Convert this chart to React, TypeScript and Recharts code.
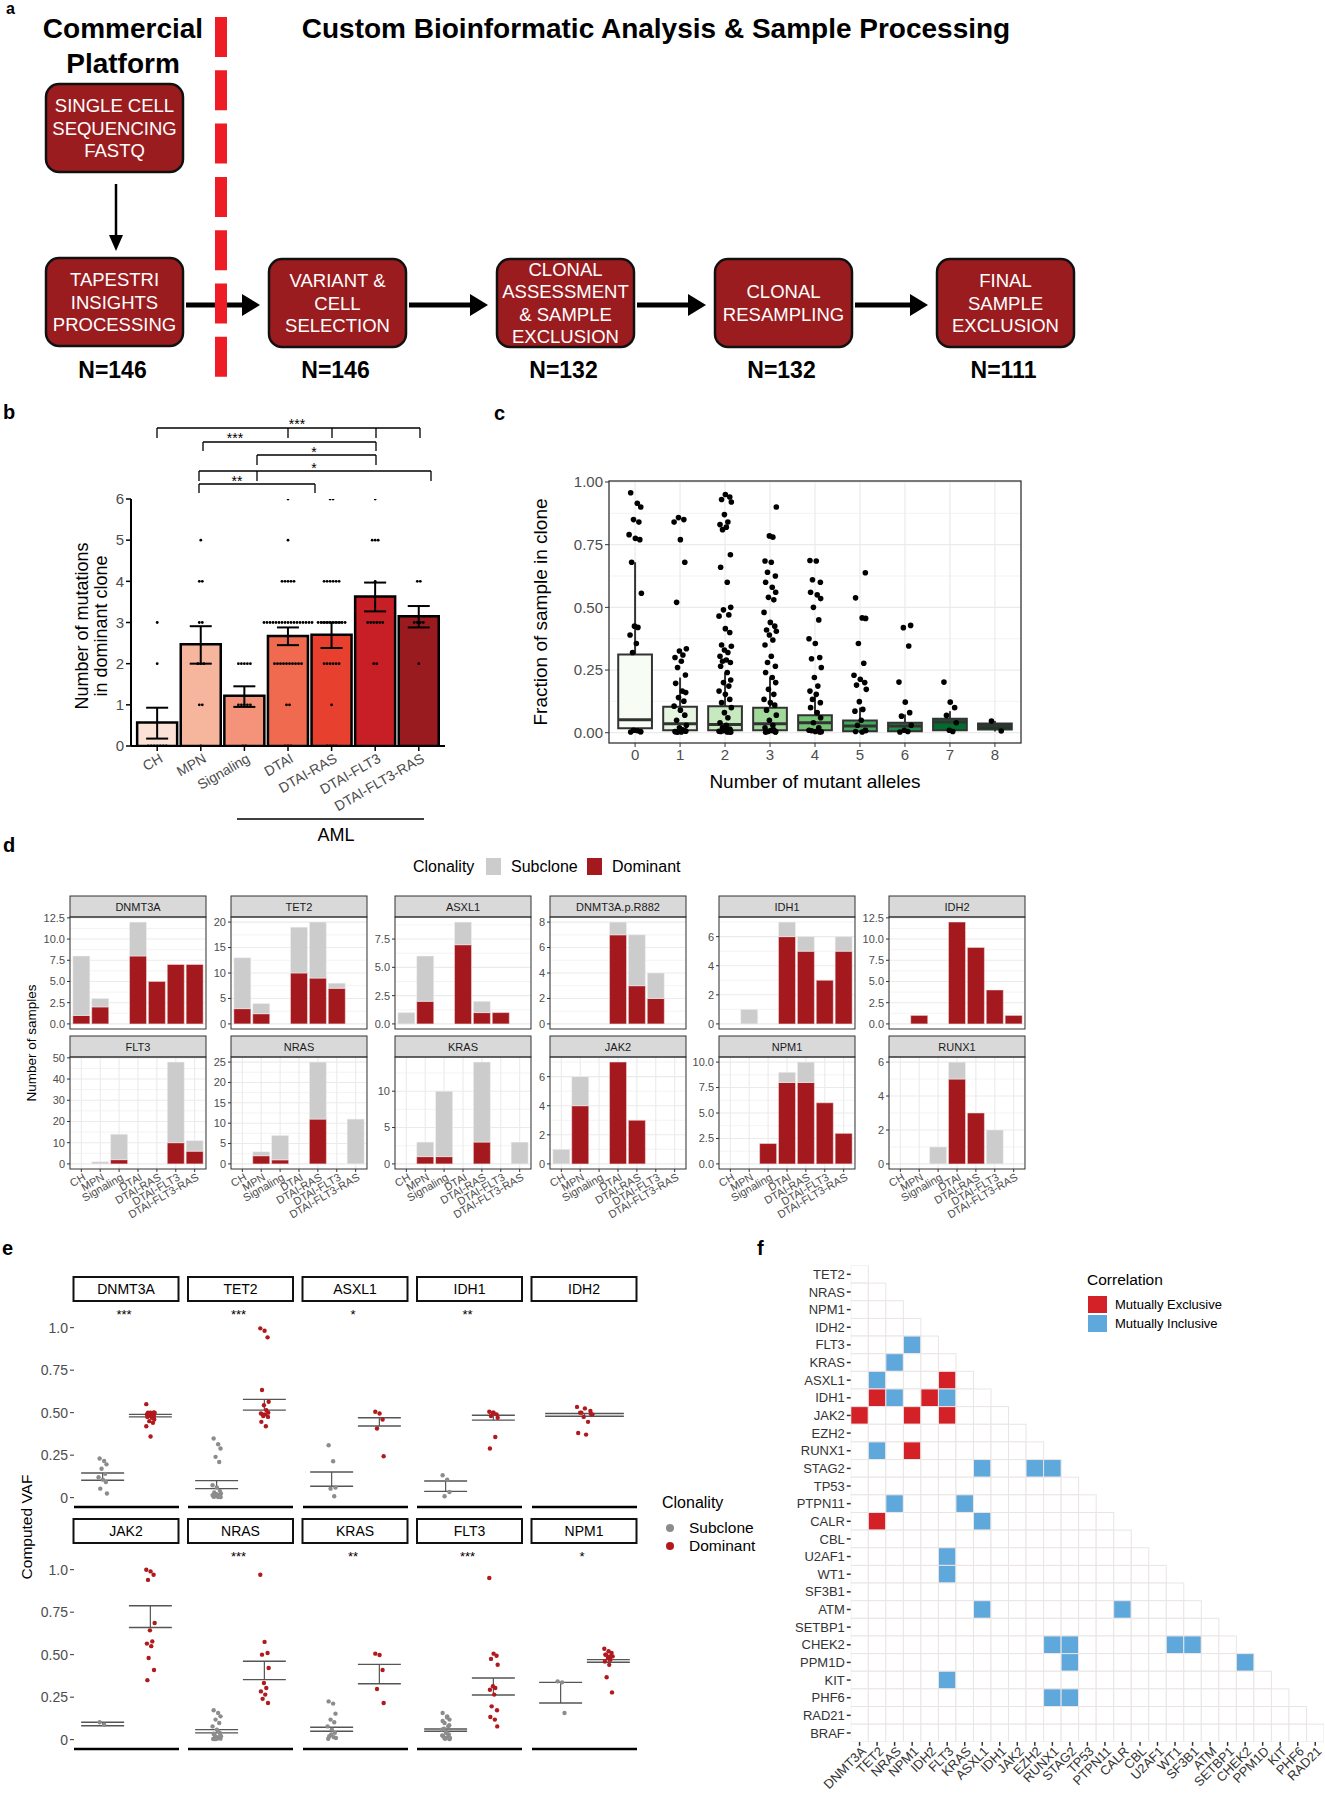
import React from 'react'
import {
  Bar,
  BarChart,
  CartesianGrid,
  Cell,
  ComposedChart,
  ErrorBar,
  ReferenceArea,
  ReferenceLine,
  Scatter,
  ScatterChart,
  XAxis,
  YAxis,
} from 'recharts'

const FONT = '"Liberation Sans", Arial, Helvetica, sans-serif'
const INK = '#4d4d4d'
const DOM_RED = '#a3191d'
const SUB_GRAY = '#cccccc'

// groups shared by panels b and d
const GROUPS = ['CH', 'MPN', 'Signaling', 'DTAI', 'DTAI-RAS', 'DTAI-FLT3', 'DTAI-FLT3-RAS']

// ---- b: number of mutations in dominant clone ----
const B_MEAN = [0.57, 2.47, 1.22, 2.67, 2.7, 3.63, 3.15]
const B_LOW = [0.18, 2.0, 0.95, 2.45, 2.38, 3.27, 2.88]
const B_HIGH = [0.93, 2.91, 1.45, 2.88, 3.0, 3.97, 3.4]
const B_COLORS = ['#fbe1d6', '#f6b59d', '#f4937a', '#ef6a4f', '#e8402f', '#c81f27', '#9a1b1f']
// samples per group sitting at 0,1,2,...,6 mutations
const B_DOTS = [
  [7, 0, 1, 1, 0, 0, 0],
  [1, 2, 3, 2, 2, 1, 0],
  [2, 5, 5, 0, 0, 0, 0],
  [3, 2, 10, 17, 5, 1, 1],
  [4, 1, 6, 10, 6, 0, 2],
  [0, 0, 2, 6, 1, 3, 1],
  [0, 0, 1, 4, 2, 0, 0],
]

// ---- c: fraction of sample in clone ----
const ALLELES = [0, 1, 2, 3, 4, 5, 6, 7, 8]
const C_LO = [0, 0, 0, 0, 0, 0, 0, 0, 0.005]
const C_Q1 = [0.018, 0.01, 0.01, 0.01, 0.01, 0.006, 0.006, 0.01, 0.013]
const C_MED = [0.052, 0.036, 0.033, 0.036, 0.04, 0.027, 0.027, 0.043, 0.027]
const C_Q3 = [0.312, 0.104, 0.106, 0.1, 0.07, 0.049, 0.04, 0.056, 0.037]
const C_HI = [0.68, 0.22, 0.24, 0.22, 0.146, 0.1, 0.073, 0.086, 0.047]
const C_FILL = ['#f7fcf5', '#e5f5e0', '#c7e9c0', '#a1d99b', '#74c476', '#41ab5d', '#238b45', '#006d2c', '#00441b']
const C_POINTS = [
  [0.957, 0.915, 0.9, 0.85, 0.84, 0.79, 0.775, 0.77, 0.68, 0.556, 0.425, 0.42, 0.39, 0.356, 0.32, 0.005, 0.003, 0.008, 0.004, 0.01],
  [0.858, 0.85, 0.84, 0.77, 0.68, 0.52, 0.335, 0.326, 0.31, 0.3, 0.285, 0.26, 0.23, 0.197, 0.166, 0.16, 0.14, 0.126, 0.106, 0.09, 0.07, 0.05, 0.03, 0.02, 0.01, 0.005, 0.003, 0.002, 0.008, 0.004, 0.012, 0.006],
  [0.95, 0.94, 0.93, 0.92, 0.87, 0.84, 0.83, 0.82, 0.81, 0.71, 0.66, 0.6, 0.5, 0.49, 0.47, 0.465, 0.415, 0.4, 0.35, 0.345, 0.33, 0.32, 0.305, 0.29, 0.285, 0.28, 0.265, 0.24, 0.21, 0.2, 0.186, 0.166, 0.153, 0.133, 0.12, 0.1, 0.08, 0.06, 0.04, 0.03, 0.02, 0.01, 0.005, 0.003, 0.002, 0.008, 0.004, 0.006, 0.012, 0.015],
  [0.9, 0.785, 0.78, 0.685, 0.68, 0.64, 0.625, 0.6, 0.58, 0.56, 0.54, 0.53, 0.48, 0.44, 0.425, 0.41, 0.405, 0.39, 0.37, 0.35, 0.305, 0.28, 0.265, 0.24, 0.22, 0.2, 0.173, 0.153, 0.133, 0.12, 0.11, 0.09, 0.07, 0.05, 0.03, 0.02, 0.01, 0.005, 0.003, 0.002, 0.008, 0.004, 0.006, 0.012],
  [0.687, 0.685, 0.61, 0.6, 0.56, 0.55, 0.535, 0.5, 0.45, 0.375, 0.356, 0.3, 0.295, 0.26, 0.22, 0.186, 0.166, 0.153, 0.133, 0.12, 0.1, 0.08, 0.06, 0.04, 0.02, 0.01, 0.005, 0.003, 0.008, 0.004],
  [0.638, 0.538, 0.458, 0.456, 0.356, 0.277, 0.229, 0.213, 0.2, 0.19, 0.173, 0.124, 0.093, 0.086, 0.05, 0.03, 0.01, 0.005, 0.003, 0.008],
  [0.428, 0.419, 0.346, 0.202, 0.122, 0.08, 0.066, 0.03, 0.01, 0.005, 0.003],
  [0.202, 0.122, 0.1, 0.069, 0.04, 0.01, 0.005],
  [0.047, 0.007],
]

// ---- d: number of samples per gene ----
const D_GENES = ['DNMT3A', 'TET2', 'ASXL1', 'DNMT3A.p.R882', 'IDH1', 'IDH2', 'FLT3', 'NRAS', 'KRAS', 'JAK2', 'NPM1', 'RUNX1']
const D_DOM = [
  [1, 2, 0, 8, 5, 7, 7],
  [3, 2, 0, 10, 9, 7, 0],
  [0, 2, 0, 7, 1, 1, 0],
  [0, 0, 0, 7, 3, 2, 0],
  [0, 0, 0, 6, 5, 3, 5],
  [0, 1, 0, 12, 9, 4, 1],
  [0, 0, 2, 0, 0, 10, 6],
  [0, 2, 1, 0, 11, 0, 0],
  [0, 1, 1, 0, 3, 0, 0],
  [0, 4, 0, 7, 3, 0, 0],
  [0, 0, 2, 8, 8, 6, 3],
  [0, 0, 0, 5, 3, 0, 0],
]
const D_SUB = [
  [7, 1, 0, 4, 0, 0, 0],
  [10, 2, 0, 9, 11, 1, 0],
  [1, 4, 0, 2, 1, 0, 0],
  [0, 0, 0, 1, 4, 2, 0],
  [0, 1, 0, 1, 1, 0, 1],
  [0, 0, 0, 0, 0, 0, 0],
  [0, 1, 12, 0, 0, 38, 5],
  [0, 1, 6, 0, 14, 0, 11],
  [0, 2, 9, 0, 11, 0, 3],
  [1, 2, 0, 0, 0, 0, 0],
  [0, 0, 0, 1, 2, 0, 0],
  [0, 0, 1, 1, 0, 2, 0],
]
const D_TICKS = [
  [0, 2.5, 5, 7.5, 10, 12.5],
  [0, 5, 10, 15, 20],
  [0, 2.5, 5, 7.5],
  [0, 2, 4, 6, 8],
  [0, 2, 4, 6],
  [0, 2.5, 5, 7.5, 10, 12.5],
  [0, 10, 20, 30, 40, 50],
  [0, 5, 10, 15, 20, 25],
  [0, 5, 10],
  [0, 2, 4, 6],
  [0, 2.5, 5, 7.5, 10],
  [0, 2, 4, 6],
]

// ---- e: computed VAF ----
const E_GENES = ['DNMT3A', 'TET2', 'ASXL1', 'IDH1', 'IDH2', 'JAK2', 'NRAS', 'KRAS', 'FLT3', 'NPM1']
const E_STARS = ['***', '***', '*', '**', '', '', '***', '**', '***', '*']
const E_SUB = [
  [0.23, 0.216, 0.196, 0.17, 0.14, 0.12, 0.106, 0.092, 0.053, 0.024],
  [0.348, 0.314, 0.289, 0.24, 0.21, 0.073, 0.06, 0.04, 0.03, 0.025, 0.02, 0.015, 0.012, 0.01, 0.008, 0.006, 0.005, 0.004, 0.003, 0.02, 0.01, 0.015],
  [0.308, 0.214, 0.06, 0.053, 0.008],
  [0.132, 0.106, 0.033, 0.008],
  [],
  [0.102, 0.088],
  [0.173, 0.157, 0.137, 0.118, 0.098, 0.078, 0.059, 0.04, 0.03, 0.02, 0.016, 0.01, 0.004, 0.008, 0.012, 0.025, 0.035, 0.05, 0.006, 0.003],
  [0.225, 0.212, 0.153, 0.118, 0.102, 0.078, 0.059, 0.04, 0.02, 0.01, 0.03, 0.015, 0.005],
  [0.157, 0.137, 0.118, 0.098, 0.078, 0.059, 0.04, 0.03, 0.02, 0.01, 0.005, 0.015, 0.025, 0.045, 0.065, 0.085, 0.11, 0.13, 0.003, 0.008],
  [0.343, 0.337, 0.157],
]
const E_DOM = [
  [0.55, 0.5, 0.5, 0.5, 0.5, 0.495, 0.49, 0.49, 0.485, 0.48, 0.48, 0.475, 0.47, 0.46, 0.45, 0.44, 0.42, 0.36, 0.5, 0.49],
  [0.996, 0.982, 0.943, 0.633, 0.564, 0.544, 0.515, 0.495, 0.49, 0.49, 0.475, 0.446, 0.42, 0.5, 0.48],
  [0.505, 0.495, 0.46, 0.407, 0.244],
  [0.505, 0.5, 0.49, 0.48, 0.47, 0.5, 0.357, 0.289],
  [0.534, 0.525, 0.51, 0.5, 0.49, 0.475, 0.446, 0.38, 0.371, 0.5, 0.49],
  [1.0, 0.99, 0.97, 0.94, 0.686, 0.643, 0.578, 0.565, 0.55, 0.48, 0.41, 0.35],
  [0.97, 0.575, 0.51, 0.5, 0.422, 0.333, 0.304, 0.284, 0.265, 0.24, 0.216],
  [0.506, 0.498, 0.41, 0.298, 0.216],
  [0.951, 0.506, 0.494, 0.475, 0.441, 0.314, 0.304, 0.294, 0.265, 0.196, 0.173, 0.133, 0.118, 0.078],
  [0.535, 0.52, 0.51, 0.5, 0.49, 0.48, 0.47, 0.46, 0.44, 0.367, 0.278, 0.5, 0.49],
]
const E_SUB_SE = [[0.102, 0.145], [0.053, 0.1], [0.067, 0.151], [0.037, 0.098], null, [0.082, 0.102], [0.04, 0.059], [0.049, 0.073], [0.049, 0.063], [0.216, 0.337]]
const E_DOM_SE = [[0.475, 0.49], [0.515, 0.578], [0.422, 0.47], [0.456, 0.485], [0.479, 0.495], [0.66, 0.788], [0.353, 0.461], [0.329, 0.443], [0.263, 0.363], [0.455, 0.471]]
const E_TICKS = [0, 0.25, 0.5, 0.75, 1.0]

// ---- f: co-occurrence ----
const F_ROWS = ['TET2', 'NRAS', 'NPM1', 'IDH2', 'FLT3', 'KRAS', 'ASXL1', 'IDH1', 'JAK2', 'EZH2', 'RUNX1', 'STAG2', 'TP53', 'PTPN11', 'CALR', 'CBL', 'U2AF1', 'WT1', 'SF3B1', 'ATM', 'SETBP1', 'CHEK2', 'PPM1D', 'KIT', 'PHF6', 'RAD21', 'BRAF']
const F_COLS = ['DNMT3A', 'TET2', 'NRAS', 'NPM1', 'IDH2', 'FLT3', 'KRAS', 'ASXL1', 'IDH1', 'JAK2', 'EZH2', 'RUNX1', 'STAG2', 'TP53', 'PTPN11', 'CALR', 'CBL', 'U2AF1', 'WT1', 'SF3B1', 'ATM', 'SETBP1', 'CHEK2', 'PPM1D', 'KIT', 'PHF6', 'RAD21']
const F_EXCLUSIVE = [['ASXL1', 'FLT3'], ['IDH1', 'TET2'], ['IDH1', 'IDH2'], ['JAK2', 'DNMT3A'], ['JAK2', 'NPM1'], ['JAK2', 'FLT3'], ['RUNX1', 'NPM1'], ['CALR', 'TET2']]
const F_INCLUSIVE = [
  ['FLT3', 'NPM1'], ['KRAS', 'NRAS'], ['ASXL1', 'TET2'], ['IDH1', 'NRAS'], ['IDH1', 'FLT3'], ['RUNX1', 'TET2'],
  ['STAG2', 'ASXL1'], ['STAG2', 'EZH2'], ['STAG2', 'RUNX1'], ['PTPN11', 'NRAS'], ['PTPN11', 'KRAS'], ['CALR', 'ASXL1'],
  ['U2AF1', 'FLT3'], ['WT1', 'FLT3'], ['ATM', 'ASXL1'], ['ATM', 'CALR'], ['CHEK2', 'RUNX1'], ['CHEK2', 'STAG2'],
  ['CHEK2', 'WT1'], ['CHEK2', 'SF3B1'], ['PPM1D', 'STAG2'], ['PPM1D', 'CHEK2'], ['KIT', 'FLT3'], ['PHF6', 'RUNX1'], ['PHF6', 'STAG2'],
]
const F_RED = '#d42027'
const F_BLUE = '#5fa8dc'

// fixed jitter pattern used for horizontal spread of points
const JIT = [-0.7, 0.35, 0.9, -0.25, 0.6, -0.95, 0.05, 0.75, -0.55, 1.0, -0.1, 0.45, -0.8, 0.2, -0.4, 0.85]

function RotTick(props: any) {
  const { x, y, payload, rot = -30, fs = 12, col = INK, ox = 0, oy = 0, names } = props
  const text = names ? names[payload.value] : payload.value
  return (
    <g transform={`translate(${x + ox},${y + oy}) rotate(${rot})`}>
      <text x={0} y={0} dy="0.35em" textAnchor="end" fontSize={fs} fill={col} fontFamily={FONT}>
        {text}
      </text>
    </g>
  )
}

// ---------------- panel b ----------------
const PB = { left: 131, right: 445, top: 499, bottom: 746 }

function PanelB() {
  const data = GROUPS.map((name, i) => ({
    name,
    mean: B_MEAN[i],
    err: [B_MEAN[i] - B_LOW[i], B_HIGH[i] - B_MEAN[i]],
  }))
  const dots = GROUPS.flatMap((name, i) =>
    B_DOTS[i].flatMap((n, v) => Array.from({ length: n }, (_, k) => ({ name, v, off: k - (n - 1) / 2 }))),
  )
  const L = 40
  const T = 480
  const W = 420
  const XH = 60
  const H = PB.bottom - T + XH + 24
  return (
    <div style={{ position: 'absolute', left: L, top: T, width: W, height: H }}>
      <ComposedChart
        width={W}
        height={H}
        data={data}
        margin={{ top: PB.top - T, right: L + W - PB.right, left: PB.left - L - 30, bottom: 24 }}
        barCategoryGap="4%"
      >
        <XAxis
          dataKey="name"
          allowDuplicatedCategory={false}
          interval={0}
          height={XH}
          padding={{ left: 4.4, right: 4.4 }}
          tickSize={5}
          axisLine={{ stroke: '#000', strokeWidth: 2 }}
          tickLine={{ stroke: '#000', strokeWidth: 1.5 }}
          tick={<RotTick rot={-30} fs={14} ox={4} oy={4} />}
        />
        <YAxis
          type="number"
          domain={[0, 6]}
          allowDataOverflow
          ticks={[0, 1, 2, 3, 4, 5, 6]}
          interval={0}
          width={30}
          tickSize={5}
          axisLine={{ stroke: '#000', strokeWidth: 2 }}
          tickLine={{ stroke: '#000', strokeWidth: 1.5 }}
          tick={{ fontSize: 15, fill: INK }}
        />
        <Bar dataKey="mean" stroke="#000" strokeWidth={2.5} isAnimationActive={false}>
          {data.map((d, i) => (
            <Cell key={d.name} fill={B_COLORS[i]} />
          ))}
          <ErrorBar dataKey="err" width={11} stroke="#000" strokeWidth={2} />
        </Bar>
        <Scatter
          data={dots}
          dataKey="v"
          isAnimationActive={false}
          shape={(p: any) => <circle cx={p.cx + p.payload.off * 3} cy={p.cy} r={1.4} fill="#000" />}
        />
      </ComposedChart>
    </div>
  )
}

const B_BRACKETS = [
  { y: 428, x1: 157, x2: 420, drops: [157, 288, 332, 376, 420], end: 438, label: '***', lx: 297, ly: 421 },
  { y: 442, x1: 203, x2: 376, drops: [203, 376], end: 451, label: '***', lx: 235, ly: 435 },
  { y: 455, x1: 257, x2: 376, drops: [257, 376], end: 465, label: '*', lx: 314, ly: 449 },
  { y: 471, x1: 199, x2: 431, drops: [199, 257, 431], end: 481, label: '*', lx: 314, ly: 465 },
  { y: 484, x1: 199, x2: 315, drops: [199, 315], end: 493, label: '**', lx: 237, ly: 478 },
]

// ---------------- panel c ----------------
const PC = { left: 609, right: 1021, top: 481, bottom: 743 }

function PanelC() {
  const pts = C_POINTS.flatMap((vals, g) => vals.map((y, k) => ({ x: g + JIT[(k + g * 3) % JIT.length] * 0.14, y })))
  const L = 560
  const T = 471
  const W = 465
  const XH = 26
  const H = PC.bottom - T + XH
  return (
    <div style={{ position: 'absolute', left: L, top: T, width: W, height: H }}>
      <ScatterChart
        width={W}
        height={H}
        margin={{ top: PC.top - T, right: L + W - PC.right, left: 0, bottom: 0 }}
      >
        <CartesianGrid stroke="#ebebeb" strokeWidth={0.6} vertical={false} horizontalValues={[0.125, 0.375, 0.625, 0.875]} />
        <CartesianGrid stroke="#ebebeb" strokeWidth={1.2} horizontalValues={[0, 0.25, 0.5, 0.75, 1]} verticalValues={ALLELES} />
        <XAxis
          type="number"
          dataKey="x"
          domain={[-0.58, 8.58]}
          allowDataOverflow
          ticks={ALLELES}
          interval={0}
          height={XH}
          tickSize={4}
          axisLine={false}
          tickLine={{ stroke: '#333' }}
          tick={{ fontSize: 15, fill: INK }}
        />
        <YAxis
          type="number"
          dataKey="y"
          domain={[-0.041, 1.004]}
          allowDataOverflow
          ticks={[0, 0.25, 0.5, 0.75, 1]}
          interval={0}
          width={PC.left - L}
          tickSize={4}
          axisLine={false}
          tickLine={{ stroke: '#333' }}
          tickFormatter={(v: number) => v.toFixed(2)}
          tick={{ fontSize: 15, fill: INK }}
        />
        {ALLELES.map((g) => (
          <ReferenceLine key={`wl${g}`} segment={[{ x: g, y: C_LO[g] }, { x: g, y: C_Q1[g] }]} stroke="#333" strokeWidth={2} />
        ))}
        {ALLELES.map((g) => (
          <ReferenceLine key={`wh${g}`} segment={[{ x: g, y: C_Q3[g] }, { x: g, y: C_HI[g] }]} stroke="#333" strokeWidth={2} />
        ))}
        {ALLELES.map((g) => (
          <ReferenceArea
            key={`b${g}`}
            x1={g - 0.375}
            x2={g + 0.375}
            y1={C_Q1[g]}
            y2={C_Q3[g]}
            fill={C_FILL[g]}
            fillOpacity={1}
            stroke="#333"
            strokeWidth={2}
          />
        ))}
        {ALLELES.map((g) => (
          <ReferenceLine
            key={`m${g}`}
            segment={[{ x: g - 0.375, y: C_MED[g] }, { x: g + 0.375, y: C_MED[g] }]}
            stroke="#333"
            strokeWidth={3}
          />
        ))}
        <Scatter
          data={pts}
          isAnimationActive={false}
          shape={(p: any) => <circle cx={p.cx} cy={p.cy} r={2.8} fill="#000" />}
        />
      </ScatterChart>
    </div>
  )
}

// ---------------- panel d ----------------
const D_COL_X = [70, 231, 395, 550, 719, 889]
const D_ROW_TOP = [917, 1057]
const D_W = 136
const D_H = 112
const D_STRIP = 21

function DFacet({ gi }: { gi: number }) {
  const row = Math.floor(gi / 6)
  const col = gi % 6
  const left = D_COL_X[col]
  const top = D_ROW_TOP[row]
  const showX = row === 1
  const data = GROUPS.map((g, i) => ({ g, dom: D_DOM[gi][i], sub: D_SUB[gi][i] }))
  const max = Math.max(...data.map((d) => d.dom + d.sub))
  const lo = -0.05 * max
  const hi = 1.05 * max
  const ticks = D_TICKS[gi]
  const step = ticks[1] - ticks[0]
  const minor = ticks.map((t) => t + step / 2).filter((t) => t < hi)
  const dec = ticks.some((t) => t % 1 !== 0)
  const YW = 40
  const MT = 8
  const XH = showX ? 62 : 0
  return (
    <div style={{ position: 'absolute', left: left - YW, top: top - MT, width: YW + D_W, height: MT + D_H + XH }}>
      <BarChart width={YW + D_W} height={MT + D_H + XH} data={data} margin={{ top: MT, right: 0, left: 0, bottom: 0 }} barCategoryGap="5%">
        <CartesianGrid stroke="#ebebeb" strokeWidth={0.6} vertical={false} horizontalValues={minor} />
        <CartesianGrid stroke="#ebebeb" strokeWidth={1.1} horizontalValues={ticks} />
        <XAxis
          dataKey="g"
          interval={0}
          height={XH}
          padding={{ left: 1.9, right: 1.9 }}
          tickSize={showX ? 3 : 0}
          axisLine={false}
          tickLine={showX ? { stroke: '#333' } : false}
          tick={showX ? <RotTick rot={-30} fs={11} ox={3} oy={2} /> : false}
        />
        <YAxis
          type="number"
          domain={[lo, hi]}
          allowDataOverflow
          ticks={ticks}
          interval={0}
          width={YW}
          tickSize={3}
          axisLine={false}
          tickLine={{ stroke: '#333' }}
          tickFormatter={(v: number) => (dec ? v.toFixed(1) : String(v))}
          tick={{ fontSize: 11, fill: INK }}
        />
        <Bar dataKey="dom" stackId="s" fill={DOM_RED} stroke="#f4e6e6" strokeWidth={0.5} isAnimationActive={false} />
        <Bar dataKey="sub" stackId="s" fill={SUB_GRAY} stroke="#f2f2f2" strokeWidth={0.5} isAnimationActive={false} />
      </BarChart>
    </div>
  )
}

// ---------------- panel e ----------------
const E_X0 = 73.5
const E_PITCH = 114.5
const E_W = 105
const E_ROW_TOP = [1301, 1543]
const E_H = 206
const E_DOMAIN = [-0.055, 1.157]
const E_STRIP = 24
const SUB_DOT = '#8c8c8c'
const DOM_DOT = '#b2191d'

function EFacet({ gi }: { gi: number }) {
  const row = Math.floor(gi / 5)
  const col = gi % 5
  const plotLeft = E_X0 + col * E_PITCH
  const hasSub = E_SUB[gi].length > 0
  const domX = hasSub ? 2 : 1
  const xMax = hasSub ? 2.6 : 1.6
  const subPts = E_SUB[gi].map((y, k) => ({ x: 1 + JIT[k % JIT.length] * 0.09, y }))
  const domPts = E_DOM[gi].map((y, k) => ({ x: domX + JIT[(k + 5) % JIT.length] * 0.09, y }))
  const YW = col === 0 ? 40 : 0
  const bars: { x: number; se: number[] }[] = []
  if (E_SUB_SE[gi]) bars.push({ x: 1, se: E_SUB_SE[gi] as number[] })
  bars.push({ x: domX, se: E_DOM_SE[gi] })
  const dot = (fill: string) => (p: any) => <circle cx={p.cx} cy={p.cy} r={2.2} fill={fill} />
  return (
    <div style={{ position: 'absolute', left: plotLeft - YW, top: E_ROW_TOP[row], width: YW + E_W, height: E_H + 3 }}>
      <ScatterChart width={YW + E_W} height={E_H + 3} margin={{ top: 0, right: 0, left: 0, bottom: 0 }}>
        <XAxis
          type="number"
          dataKey="x"
          domain={[0.4, xMax]}
          allowDataOverflow
          height={3}
          tick={false}
          tickLine={false}
          axisLine={{ stroke: '#000', strokeWidth: 2.7 }}
        />
        <YAxis
          type="number"
          dataKey="y"
          domain={E_DOMAIN}
          allowDataOverflow
          hide={col !== 0}
          ticks={E_TICKS}
          interval={0}
          width={YW}
          tickSize={4}
          axisLine={false}
          tickLine={{ stroke: '#333' }}
          tickFormatter={(v: number) => (v === 0 ? '0' : v === 1 ? '1.0' : v.toFixed(2))}
          tick={{ fontSize: 14, fill: INK }}
        />
        <Scatter data={subPts} isAnimationActive={false} shape={dot(SUB_DOT)} />
        <Scatter data={domPts} isAnimationActive={false} shape={dot(DOM_DOT)} />
        {bars.map((b) => (
          <ReferenceLine key={`l${b.x}`} segment={[{ x: b.x - 0.45, y: b.se[0] }, { x: b.x + 0.45, y: b.se[0] }]} stroke="#555" strokeWidth={1.4} />
        ))}
        {bars.map((b) => (
          <ReferenceLine key={`h${b.x}`} segment={[{ x: b.x - 0.45, y: b.se[1] }, { x: b.x + 0.45, y: b.se[1] }]} stroke="#555" strokeWidth={1.4} />
        ))}
        {bars.map((b) => (
          <ReferenceLine key={`v${b.x}`} segment={[{ x: b.x, y: b.se[0] }, { x: b.x, y: b.se[1] }]} stroke="#555" strokeWidth={1.2} />
        ))}
      </ScatterChart>
    </div>
  )
}

// ---------------- panel f ----------------
const PF = { left: 850.8, right: 1324, top: 1265.5, bottom: 1741.8 }

function PanelF() {
  const key = (r: string, c: string) => `${r}|${c}`
  const ex = new Set(F_EXCLUSIVE.map(([r, c]) => key(r, c)))
  const inc = new Set(F_INCLUSIVE.map(([r, c]) => key(r, c)))
  const cells = F_ROWS.flatMap((r, ri) =>
    F_COLS.slice(0, ri + 1).map((c, ci) => ({
      r: ri,
      c: ci,
      fill: ex.has(key(r, c)) ? F_RED : inc.has(key(r, c)) ? F_BLUE : '#ffffff',
    })),
  )
  const cw = (PF.right - PF.left) / F_COLS.length
  const ch = (PF.bottom - PF.top) / F_ROWS.length
  const L = 760
  const T = 1255
  const XH = 52
  const W = 565
  const H = PF.bottom - T + XH
  return (
    <div style={{ position: 'absolute', left: L, top: T, width: W, height: H }}>
      <ScatterChart width={W} height={H} margin={{ top: PF.top - T, right: L + W - PF.right, left: 0, bottom: 0 }}>
        <XAxis
          type="number"
          dataKey="c"
          domain={[-0.5, F_COLS.length - 0.5]}
          allowDataOverflow
          ticks={F_COLS.map((_, i) => i)}
          interval={0}
          height={XH}
          tickSize={4}
          axisLine={false}
          tickLine={{ stroke: '#333', strokeWidth: 1.5 }}
          tick={<RotTick rot={-45} fs={13} col="#333" ox={4} oy={1} names={F_COLS} />}
        />
        <YAxis
          type="number"
          dataKey="r"
          reversed
          domain={[-0.5, F_ROWS.length - 0.5]}
          allowDataOverflow
          ticks={F_ROWS.map((_, i) => i)}
          interval={0}
          width={PF.left - L}
          tickSize={4}
          axisLine={false}
          tickLine={{ stroke: '#333', strokeWidth: 1.5 }}
          tickFormatter={(i: number) => F_ROWS[i]}
          tick={{ fontSize: 13, fill: '#333' }}
        />
        <Scatter
          data={cells}
          isAnimationActive={false}
          shape={(p: any) => (
            <rect
              x={p.cx - cw / 2}
              y={p.cy - ch / 2}
              width={cw}
              height={ch}
              fill={p.payload.fill}
              stroke="#ebe4e4"
              strokeWidth={1}
            />
          )}
        />
      </ScatterChart>
    </div>
  )
}

// ---------------- panel a + annotations ----------------
const FLOW = [
  { x: 46, y: 84, lines: ['SINGLE CELL', 'SEQUENCING', 'FASTQ'] },
  { x: 46, y: 258, lines: ['TAPESTRI', 'INSIGHTS', 'PROCESSING'] },
  { x: 269, y: 259, lines: ['VARIANT &', 'CELL', 'SELECTION'] },
  { x: 497, y: 259, lines: ['CLONAL', 'ASSESSMENT', '& SAMPLE', 'EXCLUSION'] },
  { x: 715, y: 259, lines: ['CLONAL', 'RESAMPLING'] },
  { x: 937, y: 259, lines: ['FINAL', 'SAMPLE', 'EXCLUSION'] },
]
const FLOW_N = ['N=146', 'N=146', 'N=132', 'N=132', 'N=111']
const BOX_W = 137
const BOX_H = 88

function Overlay() {
  const letter = (t: string, x: number, y: number) => (
    <text x={x} y={y} fontSize={20} fontWeight={700} fill="#000">
      {t}
    </text>
  )
  const eY = (row: number, v: number) => E_ROW_TOP[row] + ((E_DOMAIN[1] - v) / (E_DOMAIN[1] - E_DOMAIN[0])) * E_H
  const ARROW_Y = 305
  return (
    <svg width={1325} height={1800} style={{ position: 'absolute', left: 0, top: 0, pointerEvents: 'none' }} fontFamily={FONT}>
      {/* panel a */}
      <text x={6} y={14} fontSize={16} fontWeight={700}>a</text>
      <text x={123} y={37.5} fontSize={28} fontWeight={700} textAnchor="middle">Commercial</text>
      <text x={123} y={72.5} fontSize={28} fontWeight={700} textAnchor="middle">Platform</text>
      <text x={656} y={37.5} fontSize={28} fontWeight={700} textAnchor="middle">Custom Bioinformatic Analysis &amp; Sample Processing</text>
      {FLOW.map((b, i) => (
        <g key={i}>
          <rect x={b.x} y={b.y} width={BOX_W} height={BOX_H} rx={13} fill="#9b1c1f" stroke="#111" strokeWidth={2.5} />
          {b.lines.map((t, k) => (
            <text
              key={k}
              x={b.x + BOX_W / 2}
              y={b.y + BOX_H / 2 + (k - (b.lines.length - 1) / 2) * 22.3 + 6.6}
              fontSize={18.5}
              fill="#fff"
              textAnchor="middle"
            >
              {t}
            </text>
          ))}
        </g>
      ))}
      {FLOW.slice(1).map((b, i) => (
        <text key={i} x={b.x + BOX_W / 2 - 2} y={378} fontSize={23} fontWeight={700} textAnchor="middle">
          {FLOW_N[i]}
        </text>
      ))}
      <line x1={116} y1={184} x2={116} y2={238} stroke="#000" strokeWidth={2.5} />
      <polygon points="116,251 109,235 123,235" fill="#000" />
      {FLOW.slice(1, 5).map((b, i) => {
        const x1 = b.x + BOX_W + 3
        const x2 = FLOW[i + 2].x - 9
        return (
          <g key={i}>
            <line x1={x1} y1={ARROW_Y} x2={x2 - 14} y2={ARROW_Y} stroke="#000" strokeWidth={5} />
            <polygon points={`${x2},${ARROW_Y} ${x2 - 18},${ARROW_Y - 11} ${x2 - 18},${ARROW_Y + 11}`} fill="#000" />
          </g>
        )
      })}
      <line x1={221} y1={17} x2={221} y2={377} stroke="#ee1c24" strokeWidth={12} strokeDasharray="40 13.3" />

      {/* panel b */}
      {letter('b', 3, 419)}
      {B_BRACKETS.map((b, i) => (
        <g key={i}>
          <line x1={b.x1} y1={b.y} x2={b.x2} y2={b.y} stroke="#000" strokeWidth={1.3} />
          {b.drops.map((x, k) => (
            <line key={k} x1={x} y1={b.y} x2={x} y2={b.end} stroke="#000" strokeWidth={1.3} />
          ))}
          <text x={b.lx} y={b.ly + 8} fontSize={14} textAnchor="middle">{b.label}</text>
        </g>
      ))}
      <text transform="translate(82,626) rotate(-90)" fontSize={18} textAnchor="middle" dominantBaseline="central">Number of mutations</text>
      <text transform="translate(101,626) rotate(-90)" fontSize={18} textAnchor="middle" dominantBaseline="central">in dominant clone</text>
      <line x1={237} y1={819} x2={424} y2={819} stroke="#000" strokeWidth={1.5} />
      <text x={336} y={841} fontSize={18} textAnchor="middle">AML</text>

      {/* panel c */}
      {letter('c', 494, 420)}
      <rect x={PC.left} y={PC.top} width={PC.right - PC.left} height={PC.bottom - PC.top} fill="none" stroke="#333" strokeWidth={1.3} />
      <text transform="translate(540,612) rotate(-90)" fontSize={19} textAnchor="middle" dominantBaseline="central">Fraction of sample in clone</text>
      <text x={815} y={788} fontSize={19} textAnchor="middle">Number of mutant alleles</text>

      {/* panel d */}
      {letter('d', 3, 852)}
      <text x={413} y={872} fontSize={16}>Clonality</text>
      <rect x={486} y={858} width={15} height={17} fill={SUB_GRAY} />
      <text x={511} y={872} fontSize={16}>Subclone</text>
      <rect x={587} y={858} width={15} height={17} fill={DOM_RED} />
      <text x={612} y={872} fontSize={16}>Dominant</text>
      <text transform="translate(31,1043) rotate(-90)" fontSize={13.5} textAnchor="middle" dominantBaseline="central">Number of samples</text>
      {D_GENES.map((g, i) => {
        const x = D_COL_X[i % 6]
        const y = D_ROW_TOP[Math.floor(i / 6)]
        return (
          <g key={g}>
            <rect x={x} y={y - D_STRIP} width={D_W} height={D_STRIP} fill="#d9d9d9" stroke="#333" strokeWidth={1} />
            <text x={x + D_W / 2} y={y - D_STRIP / 2 + 4} fontSize={11} textAnchor="middle" fill="#1a1a1a">{g}</text>
            <rect x={x} y={y} width={D_W} height={D_H} fill="none" stroke="#333" strokeWidth={1} />
          </g>
        )
      })}

      {/* panel e */}
      {letter('e', 2, 1255)}
      <text transform="translate(26,1527) rotate(-90)" fontSize={15.5} textAnchor="middle" dominantBaseline="central">Computed VAF</text>
      {E_GENES.map((g, i) => {
        const row = Math.floor(i / 5)
        const x = E_X0 + (i % 5) * E_PITCH
        const y = E_ROW_TOP[row]
        return (
          <g key={g}>
            <rect x={x} y={y - E_STRIP} width={E_W} height={E_STRIP} fill="#fff" stroke="#111" strokeWidth={2} />
            <text x={x + E_W / 2} y={y - E_STRIP / 2 + 5} fontSize={14} textAnchor="middle">{g}</text>
            {E_STARS[i] && (
              <text x={x + E_W / 2 - 2} y={eY(row, 1.1) + 8} fontSize={13} textAnchor="middle">{E_STARS[i]}</text>
            )}
          </g>
        )
      })}
      <text x={662} y={1508} fontSize={16}>Clonality</text>
      <circle cx={670} cy={1528} r={4} fill={SUB_DOT} />
      <text x={689} y={1533} fontSize={15.5}>Subclone</text>
      <circle cx={670} cy={1546} r={4} fill={DOM_DOT} />
      <text x={689} y={1551} fontSize={15.5}>Dominant</text>

      {/* panel f */}
      {letter('f', 757, 1255)}
      <text x={1087} y={1285} fontSize={15.5}>Correlation</text>
      <rect x={1088} y={1296} width={19} height={17} fill={F_RED} />
      <text x={1115} y={1309} fontSize={13}>Mutually Exclusive</text>
      <rect x={1088} y={1315} width={19} height={17} fill={F_BLUE} />
      <text x={1115} y={1328} fontSize={13}>Mutually Inclusive</text>
    </svg>
  )
}

export default function App() {
  return (
    <div
      style={{
        position: 'absolute',
        left: 0,
        top: 0,
        width: 1325,
        height: 1800,
        background: '#fff',
        fontFamily: FONT,
        overflow: 'hidden',
      }}
    >
      <PanelB />
      <PanelC />
      {D_GENES.map((_, i) => (
        <DFacet key={i} gi={i} />
      ))}
      {E_GENES.map((_, i) => (
        <EFacet key={i} gi={i} />
      ))}
      <PanelF />
      <Overlay />
    </div>
  )
}
